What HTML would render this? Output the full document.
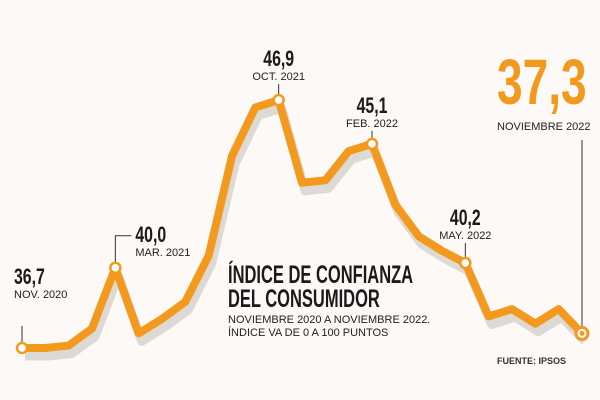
<!DOCTYPE html>
<html><head><meta charset="utf-8"><style>
body{margin:0;background:#fcf9f6;}
svg{display:block;font-family:"Liberation Sans",sans-serif;}
.big{font-weight:bold;fill:#1a1a1a;}
.sm{font-size:11px;fill:#222;}
</style></head><body>
<svg id="chart" width="600" height="400" viewBox="0 0 600 400">
<rect width="600" height="400" fill="#fcf9f6"/>
<g id="shadow"></g>
<g id="line"></g>
<g id="ann"></g>
<g transform="translate(228,283) scale(0.66,1)">
<text class="big" font-size="25" x="0" y="0">ÍNDICE DE CONFIANZA</text>
<text class="big" font-size="25" x="0" y="24">DEL CONSUMIDOR</text>
</g>
<text class="sm" x="228" y="323" font-size="11">NOVIEMBRE 2020 A NOVIEMBRE 2022.</text>
<text class="sm" x="228" y="336" font-size="11">ÍNDICE VA DE 0 A 100 PUNTOS</text>
<text x="497" y="364" font-size="9" font-weight="bold" fill="#333">FUENTE: IPSOS</text>
<g transform="translate(497,104) scale(0.72,1)">
<text font-size="64" font-weight="bold" fill="#f39a1e" x="0" y="0">37,3</text>
</g>
<text class="sm" x="497" y="130" font-size="11">NOVIEMBRE 2022</text>
</svg>
<script>
const months=["NOV. 2020","DIC. 2020","ENE. 2021","FEB. 2021","MAR. 2021","ABR. 2021","MAY. 2021","JUN. 2021","JUL. 2021","AGO. 2021","SEP. 2021","OCT. 2021","NOV. 2021","DIC. 2021","ENE. 2022","FEB. 2022","MAR. 2022","ABR. 2022","ABR. 2022b","MAY. 2022","JUN. 2022","JUL. 2022","AGO. 2022","SEP. 2022","NOVIEMBRE 2022"];
const values=[36.7,36.7,36.8,37.5,40.0,37.3,37.9,38.6,40.5,44.6,46.6,46.9,43.5,43.6,44.8,45.1,42.6,41.3,40.7,40.2,38.0,38.3,37.7,38.3,37.3];
const labelText=["36,7","40,0","46,9","45,1","40,2"];
const labelDates=["NOV. 2020","MAR. 2021","OCT. 2021","FEB. 2022","MAY. 2022"];
const labelIdx=[0,4,11,15,19];
const NS="http://www.w3.org/2000/svg";
const x=i=>22+i*(560/(values.length-1));
const y=v=>348-(v-36.7)*24.3;
function mk(t,a,p){const e=document.createElementNS(NS,t);for(const k in a)e.setAttribute(k,a[k]);p.appendChild(e);return e;}
const pts=values.map((v,i)=>x(i)+","+y(v)).join(" ");
const sh=mk("polyline",{points:values.map((v,i)=>(x(i)+3)+","+(y(v)+8)).join(" "),fill:"none",stroke:"#c8c4c0","stroke-width":9,"stroke-linejoin":"round",opacity:0.6},document.getElementById("shadow"));


const ln=mk("polyline",{points:pts,fill:"none",stroke:"#f39a1e","stroke-width":8,"stroke-linejoin":"round","stroke-linecap":"round"},document.getElementById("line"));


const ann=document.getElementById("ann");
const offs=[[0,-50,"s"],[20,0,"r"],[0,-20,"c"],[0,-17,"c"],[0,-24,"c"]];
labelIdx.forEach((idx,k)=>{
 const px=x(idx),py=y(values[idx]);
 const o=offs[k];let tx,ty,anchor="middle";
 if(o[2]=="s"){tx=px-8;ty=py-50;anchor="start";mk("line",{x1:px,y1:py-6,x2:px,y2:py-22,stroke:"#333","stroke-width":1},ann);}
 else if(o[2]=="r"){tx=px+20;ty=py-12;anchor="start";mk("polyline",{points:`${px},${py-6} ${px},${py-32} ${px+16},${py-32}`,fill:"none",stroke:"#333","stroke-width":1},ann);}
 else{tx=px;ty=py+o[1];mk("line",{x1:px,y1:py-6,x2:px,y2:py+o[1]+4,stroke:"#333","stroke-width":1},ann);}
 const g=mk("g",{transform:`translate(${tx},${ty})`},ann);
 
 
 const g2=mk("g",{transform:`translate(0,-14) scale(0.72,1)`},g);
 const t1=mk("text",{"font-size":22,"font-weight":"bold",fill:"#1a1a1a","text-anchor":anchor,x:0,y:0},g2);t1.textContent=labelText[k];
 
 
 const t2=mk("text",{"font-size":11,fill:"#222","text-anchor":anchor,x:0,y:0},g);t2.textContent=labelDates[k];
 
 
 const c=mk("circle",{cx:px,cy:py,r:5,fill:"#fff",stroke:"#f39a1e","stroke-width":2.5},ann);
 
 
});
const li=values.length-1,lx=x(li),ly=y(values[li]);
mk("line",{x1:lx,y1:140,x2:lx,y2:ly-6,stroke:"#333","stroke-width":1},ann);
const lc=mk("circle",{cx:lx,cy:ly,r:6,fill:"#fff",stroke:"#f39a1e","stroke-width":3},ann);


mk("circle",{cx:lx,cy:ly,r:2.5,fill:"#f39a1e"},ann);
</script>
</body></html>
